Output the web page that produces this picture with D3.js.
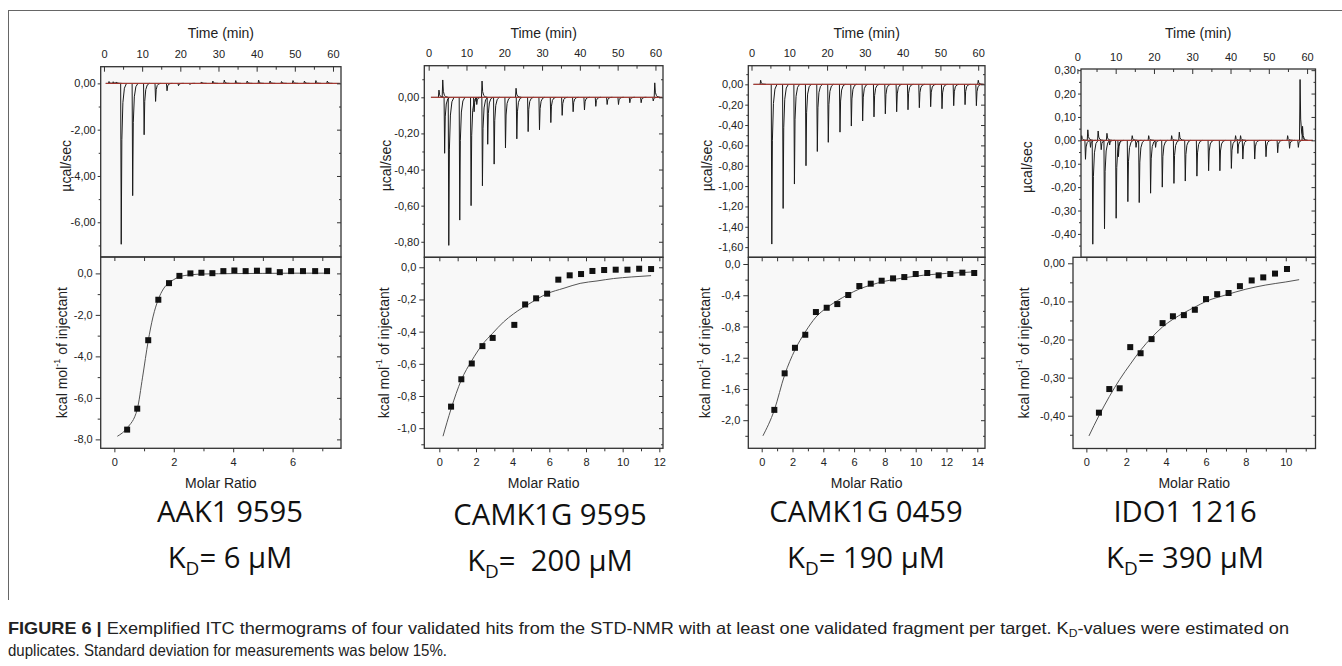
<!DOCTYPE html>
<html><head><meta charset="utf-8">
<script src="https://cdn.jsdelivr.net/npm/d3@7"></script>
<style>body{margin:0;background:#fff}</style></head>
<body>
<svg id="c" width="1342" height="666"></svg>
<script>
// ---------------- DATA ----------------
const timeTicks = [0,10,20,30,40,50,60];
const timeMinor = [5,15,25,35,45,55];

// AAK1 9595
const aak1SpikeTime  = [1.2,2.3,3.1,4.4,7.4,10.4,13.4,16.4,19.4,22.4,25.4,28.4,31.4,34.4,37.4,40.4,43.4,46.4,49.4,52.4,55.4,58.4];
const aak1SpikeValue = [0.08,0.07,0.06,-6.95,-4.85,-2.22,-0.78,-0.32,-0.10,-0.05,0.06,0.10,0.14,0.12,0.10,0.14,0.10,0.08,0.12,0.10,0.12,0.10];
const aak1Ratio = [0.43,0.77,1.14,1.48,1.84,2.19,2.56,2.93,3.30,3.67,4.04,4.42,4.80,5.19,5.57,5.95,6.35,6.76,7.16];
const aak1Heat  = [-7.53,-6.52,-3.22,-1.27,-0.47,-0.12,0.00,0.03,0.01,0.11,0.14,0.11,0.13,0.13,0.06,0.11,0.11,0.11,0.11];
const aak1FitRatio = [0.10,0.43,0.77,0.95,1.14,1.30,1.48,1.65,1.84,2.00,2.19,2.56,3.00,4.00,5.00,6.00,7.16];
const aak1FitHeat  = [-7.85,-7.45,-6.55,-5.00,-3.25,-2.10,-1.25,-0.75,-0.45,-0.30,-0.16,-0.07,-0.03,-0.01,0.00,0.01,0.01];
const aak1ThermoTicks = [0,-2,-4,-6],  aak1ThermoMinor = [-1,-3,-5,-7];
const aak1HeatTicks = [0,-2,-4,-6,-8], aak1HeatMinor = [-1,-3,-5,-7];
const aak1RatioTicks = [0,2,4,6],      aak1RatioMinor = [1,3,5,7];

// CAMK1G 9595
const camkASpikeTime  = [2.6,3.6,4.1,5.2,8.1,11.1,11.9,12.6,14.0,14.1,15.5,17.2,20.2,23.0,23.2,26.2,29.2,32.2,35.2,38.1,41.1,44.1,47.1,50.1,53.1,56.1,59.3,59.7];
const camkASpikeValue = [0.04,0.096,-0.31,-0.82,-0.68,-0.60,-0.08,-0.04,0.09,-0.49,-0.26,-0.37,-0.28,0.05,-0.23,-0.19,-0.18,-0.14,-0.10,-0.08,-0.07,-0.05,-0.04,-0.04,-0.03,-0.03,-0.02,0.08];
const camkARatio = [0.64,1.20,1.77,2.35,2.91,4.09,4.68,5.28,5.88,6.49,7.11,7.73,8.35,8.99,9.62,10.26,10.90,11.55];
const camkAHeat  = [-0.866,-0.696,-0.598,-0.490,-0.439,-0.358,-0.231,-0.193,-0.164,-0.077,-0.050,-0.042,-0.023,-0.017,-0.015,-0.015,-0.009,-0.011];
const camkAFitRatio = [0.20,0.64,1.20,1.77,2.35,2.91,3.50,4.04,5.00,5.86,6.80,7.68,8.60,9.50,10.50,11.55];
const camkAFitHeat  = [-1.05,-0.88,-0.70,-0.58,-0.48,-0.41,-0.34,-0.29,-0.22,-0.165,-0.13,-0.10,-0.085,-0.07,-0.06,-0.052];
const camkAThermoTicks = [0,-0.2,-0.4,-0.6,-0.8], camkAThermoMinor = [0.1,-0.1,-0.3,-0.5,-0.7];
const camkAHeatTicks = [0,-0.2,-0.4,-0.6,-0.8,-1.0], camkAHeatMinor = [-0.1,-0.3,-0.5,-0.7,-0.9,-1.1];
const camkARatioTicks = [0,2,4,6,8,10,12], camkARatioMinor = [1,3,5,7,9,11];

// CAMK1G 0459
const camkBSpikeTime  = [2.3,5.25,8.25,11.24,14.3,17.3,20.2,23.3,26.3,29.3,32.3,35.3,38.3,41.3,44.3,47.3,50.3,53.4,56.4,59.4,59.9];
const camkBSpikeValue = [0.04,-1.57,-1.22,-0.98,-0.80,-0.66,-0.57,-0.47,-0.41,-0.36,-0.32,-0.29,-0.27,-0.25,-0.23,-0.22,-0.24,-0.21,-0.20,-0.21,0.04];
const camkBRatio = [0.82,1.49,2.16,2.83,3.52,4.22,4.91,5.62,6.34,7.08,7.79,8.53,9.26,10.00,10.75,11.49,12.25,13.03,13.80];
const camkBHeat  = [-1.868,-1.40,-1.073,-0.906,-0.615,-0.560,-0.513,-0.397,-0.282,-0.252,-0.214,-0.184,-0.167,-0.128,-0.115,-0.145,-0.128,-0.111,-0.115];
const camkBFitRatio = [0.08,0.82,1.49,2.16,2.83,3.52,4.22,4.91,5.62,6.34,7.08,8.00,9.00,10.00,11.00,12.00,13.00,13.80];
const camkBFitHeat  = [-2.20,-1.87,-1.42,-1.10,-0.87,-0.68,-0.56,-0.47,-0.39,-0.32,-0.27,-0.22,-0.185,-0.155,-0.135,-0.12,-0.11,-0.10];
const camkBThermoTicks = [0,-0.2,-0.4,-0.6,-0.8,-1.0,-1.2,-1.4,-1.6];
const camkBThermoMinor = [0.1,-0.1,-0.3,-0.5,-0.7,-0.9,-1.1,-1.3,-1.5];
const camkBHeatTicks = [0,-0.4,-0.8,-1.2,-1.6,-2.0], camkBHeatMinor = [-0.2,-0.6,-1.0,-1.4,-1.8,-2.2];
const camkBRatioTicks = [0,2,4,6,8,10,12,14], camkBRatioMinor = [1,3,5,7,9,11,13];

// IDO1 1216
const ido1SpikeTime  = [1.0,1.99,2.6,3.3,3.9,5.3,6.1,6.96,7.6,8.3,10.0,10.6,13.06,14.2,15.2,16.03,18.5,19.0,20.3,22.05,24.5,25.1,26.5,28.06,31.1,34.16,37.1,40.1,41.2,41.8,42.5,43.1,46.2,49.15,52.2,54.8,55.3,57.6,58.05,58.7];
const ido1SpikeValue = [0.02,-0.081,0.045,-0.03,-0.444,0.04,-0.04,-0.378,0.03,-0.02,-0.333,-0.07,-0.262,0.02,-0.03,-0.266,0.02,-0.226,-0.03,-0.20,0.02,-0.184,0.035,-0.174,-0.153,-0.13,-0.13,-0.12,0.02,-0.056,0.02,-0.08,-0.08,-0.07,-0.053,0.02,-0.034,-0.03,0.26,0.06];
const ido1Ratio = [0.63,1.15,1.67,2.20,2.72,3.27,3.82,4.34,4.89,5.44,6.00,6.56,7.13,7.70,8.29,8.87,9.46,10.06];
const ido1Heat  = [-0.392,-0.330,-0.328,-0.220,-0.236,-0.199,-0.157,-0.139,-0.136,-0.122,-0.094,-0.081,-0.078,-0.060,-0.045,-0.037,-0.027,-0.015];
const ido1FitRatio = [0.13,0.63,1.15,1.67,2.20,2.72,3.27,3.82,4.34,4.89,5.44,6.00,7.00,8.00,9.00,10.00,10.67];
const ido1FitHeat  = [-0.453,-0.40,-0.35,-0.305,-0.265,-0.228,-0.195,-0.167,-0.147,-0.13,-0.115,-0.10,-0.083,-0.068,-0.057,-0.049,-0.043];
const ido1ThermoTicks = [0.3,0.2,0.1,0,-0.1,-0.2,-0.3,-0.4];
const ido1ThermoMinor = [0.25,0.15,0.05,-0.05,-0.15,-0.25,-0.35,-0.45];
const ido1HeatTicks = [0,-0.1,-0.2,-0.3,-0.4], ido1HeatMinor = [-0.05,-0.15,-0.25,-0.35,-0.45];
const ido1RatioTicks = [0,2,4,6,8,10], ido1RatioMinor = [1,3,5,7,9,11];

const panelNames = ["AAK1 9595","CAMK1G 9595","CAMK1G 0459","IDO1 1216"];
const panelKd = ["= 6 µM","=\u00a0 200 µM","= 190 µM","= 390 µM"];

// ---------------- DRAW ----------------
const svg = d3.select("#c");
const FONT = "'Liberation Sans', Arial, Helvetica, sans-serif";
const loc = d3.formatLocale({decimal:",", thousands:".", grouping:[3], currency:["",""], minus:"-"});
const f2 = loc.format(".2f"), f1 = loc.format(".1f"), f0 = loc.format("d");
const zip = (a,b) => a.map((v,i)=>[v,b[i]]);

// frame
svg.append("line").attr("x1",8).attr("x2",1342).attr("y1",10.5).attr("y2",10.5).attr("stroke","#666").attr("stroke-width",1);
svg.append("line").attr("x1",8.5).attr("x2",8.5).attr("y1",10).attr("y2",600).attr("stroke","#666").attr("stroke-width",1);

const panels = [
  {left:100.7,right:341,top:66.7,mid:257,bottom:448.3, timeDomain:[-0.86,62.1], thermoDomain:[-7.5,0.72],
   ratioDomain:[-0.46,7.63], heatDomain:[-8.43,0.79], trace:[0.45,61.8],
   spikes:zip(aak1SpikeTime,aak1SpikeValue), pts:zip(aak1Ratio,aak1Heat), fit:zip(aak1FitRatio,aak1FitHeat),
   tT:aak1ThermoTicks,tM:aak1ThermoMinor,hT:aak1HeatTicks,hM:aak1HeatMinor,rT:aak1RatioTicks,rM:aak1RatioMinor,
   fT:f2,fH:f1, ylab1:66, ylab2:62, cx:230},
  {left:424.3,right:663,top:65.7,mid:257.3,bottom:448.3, timeDomain:[-1.16,62.0], thermoDomain:[-0.886,0.175],
   ratioDomain:[-0.82,12.2], heatDomain:[-1.125,0.062], trace:[0.6,61.8],
   spikes:zip(camkASpikeTime,camkASpikeValue), pts:zip(camkARatio,camkAHeat), fit:zip(camkAFitRatio,camkAFitHeat),
   tT:camkAThermoTicks,tM:camkAThermoMinor,hT:camkAHeatTicks,hM:camkAHeatMinor,rT:camkARatioTicks,rM:camkARatioMinor,
   fT:f2,fH:f1, ylab1:386, ylab2:384, cx:550},
  {left:748.3,right:985,top:65.7,mid:257.3,bottom:448.3, timeDomain:[-0.85,61.8], thermoDomain:[-1.70,0.183],
   ratioDomain:[-0.87,14.5], heatDomain:[-2.36,0.086], trace:[0.5,61.5],
   spikes:zip(camkBSpikeTime,camkBSpikeValue), pts:zip(camkBRatio,camkBHeat), fit:zip(camkBFitRatio,camkBFitHeat),
   tT:camkBThermoTicks,tM:camkBThermoMinor,hT:camkBHeatTicks,hM:camkBHeatMinor,rT:camkBRatioTicks,rM:camkBRatioMinor,
   fT:f2,fH:f1, ylab1:707, ylab2:705, cx:866},
  {left:1081,bleft:1073,right:1315.5,top:69,mid:257.3,bottom:448.5, timeDomain:[0.94,62.2], thermoDomain:[-0.50,0.305],
   ratioDomain:[-0.67,11.49], heatDomain:[-0.486,0.0157], trace:[0.94,61.5],
   spikes:zip(ido1SpikeTime,ido1SpikeValue), pts:zip(ido1Ratio,ido1Heat), fit:zip(ido1FitRatio,ido1FitHeat),
   tT:ido1ThermoTicks,tM:ido1ThermoMinor,hT:ido1HeatTicks,hM:ido1HeatMinor,rT:ido1RatioTicks,rM:ido1RatioMinor,
   fT:f2,fH:f2, ylab1:1027, ylab2:1024, cx:1185}
];

// spike drawing profile (relative time offset, fraction of peak)
const SHAPE = [[-0.03,0],[0.12,1],[0.28,0.35],[0.55,0.12],[0.95,0.03],[1.5,0]];

function styleAxis(sel) {
  sel.select(".domain").remove();
  sel.selectAll("line").attr("stroke","#333").attr("stroke-width",1);
  sel.selectAll("text").attr("font-family",FONT).attr("font-size",11).attr("fill","#222");
}

panels.forEach((p,i) => {
  const g = svg.append("g");
  const bl = p.bleft ?? p.left;
  const xT = d3.scaleLinear().domain(p.timeDomain).range([p.left,p.right]);
  const yT = d3.scaleLinear().domain(p.thermoDomain).range([p.mid,p.top]);
  const xR = d3.scaleLinear().domain(p.ratioDomain).range([bl,p.right]);
  const yH = d3.scaleLinear().domain(p.heatDomain).range([p.bottom,p.mid]);

  g.append("rect").attr("x",p.left).attr("y",p.top).attr("width",p.right-p.left).attr("height",p.mid-p.top).attr("fill","#f8f8f8");
  g.append("rect").attr("x",bl).attr("y",p.mid).attr("width",p.right-bl).attr("height",p.bottom-p.mid).attr("fill","#f8f8f8");

  const cid = "clip"+i;
  svg.append("clipPath").attr("id",cid).append("rect").attr("x",p.left).attr("y",p.top).attr("width",p.right-p.left).attr("height",p.mid-p.top);
  const tg = g.append("g").attr("clip-path",`url(#${cid})`);
  const line = d3.line().x(d=>xT(d[0])).y(d=>yT(d[1]));
  tg.append("path").attr("d",line([[p.trace[0],0],[p.trace[1],0]])).attr("stroke","#222").attr("stroke-width",1).attr("fill","none");
  tg.selectAll("path.spk").data(p.spikes).join("path").attr("class","spk")
    .attr("d",d=>line(SHAPE.map(s=>[d[0]+s[0], d[1]*s[1]])))
    .attr("stroke","#1a1a1a").attr("stroke-width",1).attr("fill","none").attr("stroke-linejoin","round");
  tg.append("path").attr("d",line([[p.trace[0],0],[p.trace[1],0]])).attr("stroke","#dd3b30").attr("stroke-width",0.9).attr("fill","none").attr("opacity",0.85);

  // fit + points
  const fl = d3.line().x(d=>xR(d[0])).y(d=>yH(d[1])).curve(d3.curveMonotoneX);
  g.append("path").attr("d",fl(p.fit)).attr("stroke","#555").attr("stroke-width",1).attr("fill","none");
  g.selectAll("rect.pt").data(p.pts).join("rect").attr("class","pt")
    .attr("x",d=>xR(d[0])-3).attr("y",d=>yH(d[1])-3).attr("width",6).attr("height",6).attr("fill","#111");

  // boxes
  g.append("rect").attr("x",p.left).attr("y",p.top).attr("width",p.right-p.left).attr("height",p.mid-p.top).attr("fill","none").attr("stroke","#333").attr("stroke-width",1.3);
  g.append("rect").attr("x",bl).attr("y",p.mid).attr("width",p.right-bl).attr("height",p.bottom-p.mid).attr("fill","none").attr("stroke","#333").attr("stroke-width",1.3);

  // top panel axes
  g.append("g").attr("transform",`translate(0,${p.top})`).call(d3.axisTop(xT).tickValues(timeTicks).tickSizeInner(-5).tickSizeOuter(0).tickPadding(8.5).tickFormat(f0)).call(styleAxis);
  g.append("g").attr("transform",`translate(0,${p.top})`).call(d3.axisTop(xT).tickValues(timeMinor).tickSizeInner(-3).tickSizeOuter(0).tickFormat("")).call(styleAxis);
  g.append("g").attr("transform",`translate(${p.left},0)`).call(d3.axisLeft(yT).tickValues(p.tT).tickSize(3).tickPadding(2).tickFormat(p.fT)).call(styleAxis);
  g.append("g").attr("transform",`translate(${p.left},0)`).call(d3.axisLeft(yT).tickValues(p.tM).tickSize(2).tickFormat("")).call(styleAxis);
  g.append("g").attr("transform",`translate(${p.right},0)`).call(d3.axisRight(yT).tickValues(p.tT).tickSizeInner(-4).tickSizeOuter(0).tickFormat("")).call(styleAxis);
  g.append("g").attr("transform",`translate(${p.right},0)`).call(d3.axisRight(yT).tickValues(p.tM).tickSizeInner(-2).tickSizeOuter(0).tickFormat("")).call(styleAxis);

  // bottom panel axes
  g.append("g").attr("transform",`translate(0,${p.bottom})`).call(d3.axisBottom(xR).tickValues(p.rT).tickSize(4).tickPadding(6).tickFormat(f0)).call(styleAxis);
  g.append("g").attr("transform",`translate(0,${p.bottom})`).call(d3.axisBottom(xR).tickValues(p.rM).tickSize(3).tickFormat("")).call(styleAxis);
  g.append("g").attr("transform",`translate(0,${p.mid})`).call(d3.axisTop(xR).tickValues(p.rT.concat(p.rM)).tickSizeInner(-4).tickSizeOuter(0).tickFormat("")).call(styleAxis);
  g.append("g").attr("transform",`translate(${bl},0)`).call(d3.axisLeft(yH).tickValues(p.hT).tickSize(5).tickPadding(3).tickFormat(p.fH)).call(styleAxis);
  g.append("g").attr("transform",`translate(${bl},0)`).call(d3.axisLeft(yH).tickValues(p.hM).tickSize(3).tickFormat("")).call(styleAxis);
  g.append("g").attr("transform",`translate(${p.right},0)`).call(d3.axisRight(yH).tickValues(p.hT).tickSizeInner(-4).tickSizeOuter(0).tickFormat("")).call(styleAxis);
  g.append("g").attr("transform",`translate(${p.right},0)`).call(d3.axisRight(yH).tickValues(p.hM).tickSizeInner(-2).tickSizeOuter(0).tickFormat("")).call(styleAxis);

  // axis titles
  g.append("text").attr("x",(p.left+p.right)/2).attr("y",37.5).attr("text-anchor","middle")
    .attr("font-family",FONT).attr("font-size",14).attr("fill","#222").text("Time (min)");
  g.append("text").attr("x",(bl+p.right)/2).attr("y",488).attr("text-anchor","middle")
    .attr("font-family",FONT).attr("font-size",14).attr("fill","#222").text("Molar Ratio");
  g.append("text").attr("transform",`translate(${p.ylab1},${(p.top+p.mid)/2+4}) rotate(-90)`).attr("text-anchor","middle")
    .attr("dominant-baseline","central").attr("font-family",FONT).attr("font-size",14).attr("fill","#222").text("µcal/sec");
  const kt = g.append("text").attr("transform",`translate(${p.ylab2},${(p.mid+p.bottom)/2}) rotate(-90)`).attr("text-anchor","middle")
    .attr("dominant-baseline","central").attr("font-family",FONT).attr("font-size",14).attr("fill","#222");
  kt.append("tspan").text("kcal mol");
  kt.append("tspan").attr("font-size",9).attr("dy",-5).text("-1");
  kt.append("tspan").attr("dy",5).text(" of injectant");
});

// big labels
const BIG = "'Open Sans', Lato, 'Noto Sans', sans-serif";
let bigSize = 29;
const probe = svg.append("text").attr("font-family",BIG).attr("font-size",bigSize).text(panelNames[0]);
bigSize = bigSize * 146 / probe.node().getComputedTextLength();
probe.remove();
panels.forEach((p,i) => {
  const dy = i===1 ? 3 : 0;
  svg.append("text").attr("x",p.cx).attr("y",522+dy).attr("text-anchor","middle")
    .attr("font-family",BIG).attr("font-size",bigSize).attr("fill","#111").text(panelNames[i]);
  const t = svg.append("text").attr("x",p.cx).attr("y",568+dy).attr("text-anchor","middle")
    .attr("font-family",BIG).attr("font-size",bigSize).attr("fill","#111").attr("xml:space","preserve");
  t.append("tspan").text("K");
  t.append("tspan").attr("font-size",bigSize*0.65).attr("dy",7).text("D");
  t.append("tspan").attr("dy",-7).text(panelKd[i]);
});

// caption
const CAP = "'Liberation Sans Narrow', 'Arial Narrow', 'Liberation Sans', Arial, sans-serif";
const c1 = svg.append("text").attr("x",8).attr("y",634).attr("font-family",CAP).attr("font-size",16.5).attr("fill","#222");
c1.append("tspan").attr("font-weight","bold").text("FIGURE 6 | ");
c1.append("tspan").text("Exemplified ITC thermograms of four validated hits from the STD-NMR with at least one validated fragment per target. K");
c1.append("tspan").attr("font-size",11).attr("dy",3).text("D");
c1.append("tspan").attr("dy",-3).text("-values were estimated on");
const c2 = svg.append("text").attr("x",8).attr("y",656).attr("font-family",CAP).attr("font-size",16.5).attr("fill","#222")
  .text("duplicates. Standard deviation for measurements was below 15%.");
[[c1,1281],[c2,439]].forEach(([t,w]) => {
  const cur = t.node().getComputedTextLength();
  if (Math.abs(cur-w) > 2) t.attr("textLength",w).attr("lengthAdjust","spacingAndGlyphs");
});
</script>
</body></html>
